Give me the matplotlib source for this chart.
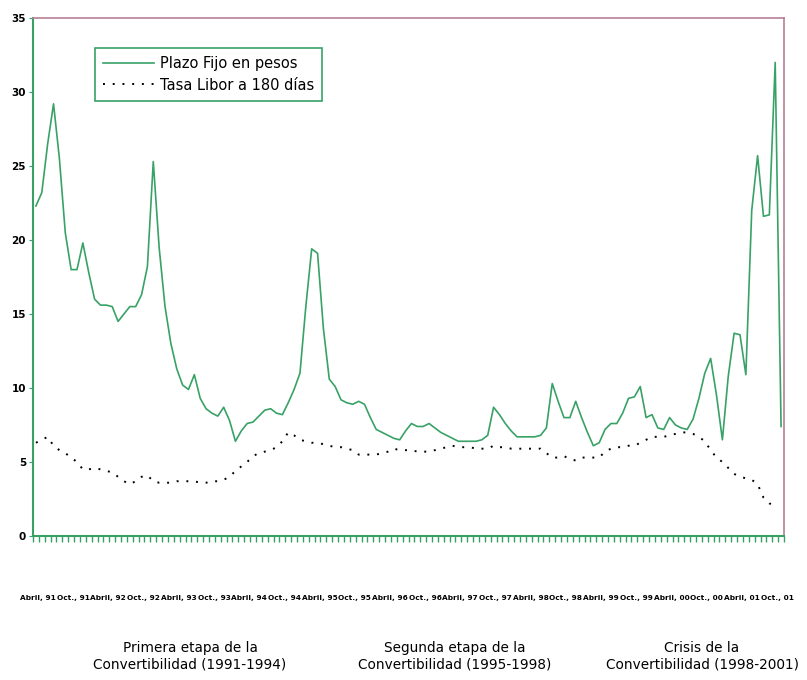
import numpy as np
import matplotlib.pyplot as plt

# monthly data, April 1991 - November 2001
plazo_fijo = [22.3, 23.2, 26.5, 29.2, 25.5, 20.5, 18.0, 18.0, 19.8, 17.8,
              16.0, 15.6, 15.6, 15.5, 14.5, 15.0, 15.5, 15.5, 16.3, 18.2,
              25.3, 19.5, 15.5, 13.0, 11.3, 10.2, 9.9, 10.9, 9.3, 8.6,
              8.3, 8.1, 8.7, 7.8, 6.4, 7.1, 7.6, 7.7, 8.1, 8.5,
              8.6, 8.3, 8.2, 9.0, 9.9, 11.0, 15.5, 19.4, 19.1, 14.0,
              10.6, 10.1, 9.2, 9.0, 8.9, 9.1, 8.9, 8.0, 7.2, 7.0,
              6.8, 6.6, 6.5, 7.1, 7.6, 7.4, 7.4, 7.6, 7.3, 7.0,
              6.8, 6.6, 6.4, 6.4, 6.4, 6.4, 6.5, 6.8, 8.7, 8.2,
              7.6, 7.1, 6.7, 6.7, 6.7, 6.7, 6.8, 7.3, 10.3, 9.1,
              8.0, 8.0, 9.1, 8.0, 7.0, 6.1, 6.3, 7.2, 7.6, 7.6,
              8.3, 9.3, 9.4, 10.1, 8.0, 8.2, 7.3, 7.2, 8.0, 7.5,
              7.3, 7.2, 7.9, 9.3, 11.0, 12.0, 9.5, 6.5, 10.8, 13.7,
              13.6, 10.9, 22.0, 25.7, 21.6, 21.7, 32.0, 7.4]

libor = [6.3, 6.5, 6.7, 6.1, 5.8, 5.6, 5.3, 5.0, 4.5, 4.5,
         4.6, 4.5, 4.4, 4.3, 4.0, 3.7, 3.5, 3.7, 4.0, 4.1,
         3.7, 3.6, 3.6, 3.6, 3.7, 3.7, 3.7, 3.7, 3.6, 3.6,
         3.7, 3.7, 3.8, 4.0, 4.4, 4.7, 5.0, 5.4, 5.6, 5.7,
         5.8, 6.0, 6.4, 7.0, 6.8, 6.5, 6.4, 6.3, 6.3, 6.2,
         6.1, 6.0, 6.0, 5.9, 5.8, 5.5, 5.5, 5.5, 5.5, 5.6,
         5.7, 5.9, 5.8, 5.8, 5.8, 5.7, 5.7, 5.7, 5.8, 5.9,
         6.0, 6.1, 6.0, 6.0, 6.0, 5.9, 5.9, 5.9, 6.1, 6.0,
         6.0, 5.9, 5.9, 5.9, 5.9, 5.9, 5.9, 5.6, 5.3, 5.3,
         5.4, 5.2, 5.1, 5.3, 5.3, 5.3, 5.3, 5.7, 5.9, 6.0,
         6.0, 6.1, 6.1, 6.3, 6.5, 6.7, 6.7, 6.7, 6.8, 6.9,
         7.0, 7.0, 6.9, 6.7, 6.4, 5.8, 5.3, 5.0, 4.6, 4.2,
         4.0, 3.9, 3.8, 3.5, 2.6, 2.2, 2.1, np.nan]

tick_labels = []
for yr in ['91', '92', '93', '94', '95', '96', '97', '98', '99', '00', '01']:
    tick_labels += ['Abril, ' + yr, 'Oct., ' + yr]

etapas = ['Primera etapa de la\nConvertibilidad (1991-1994)',
          'Segunda etapa de la\nConvertibilidad (1995-1998)',
          'Crisis de la\nConvertibilidad (1998-2001)']
etapa_x = [190, 455, 702]

green = '#38a266'
pink = '#b67f97'

fig = plt.figure(figsize=(8.07, 6.8), dpi=100)
ax = fig.add_axes([33 / 807, 1 - 536 / 680, 751 / 807, 518 / 680])

x = np.arange(len(plazo_fijo))
ax.plot(x, plazo_fijo, color=green, lw=1.2, label='Plazo Fijo en pesos')
ax.plot(np.arange(len(libor)), libor, color='black', lw=1.4,
        linestyle=(0, (1, 4)), label='Tasa Libor a 180 días')

ax.set_xlim(-0.5, len(plazo_fijo) - 0.5)
ax.set_ylim(0, 35)
ax.set_yticks(range(0, 36, 5))
ax.tick_params(axis='y', labelsize=7.5, length=3, color=green, pad=2)
for lab in ax.get_yticklabels():
    lab.set_fontweight('bold')

# monthly ticks on the category axis
ax.set_xticks(np.arange(-0.5, len(plazo_fijo), 1))
ax.set_xticklabels([])
ax.tick_params(axis='x', length=4, color=green, width=1)

for sp in ['left', 'bottom']:
    ax.spines[sp].set_color(green)
    ax.spines[sp].set_linewidth(1.5)
for sp in ['top', 'right']:
    ax.spines[sp].set_color(pink)
    ax.spines[sp].set_linewidth(1.2)

# half-year labels under the axis
for k, lab in enumerate(tick_labels):
    ax.annotate(lab, xy=(k * 6, 0), xycoords='data',
                xytext=(2, -62), textcoords='offset pixels',
                ha='center', va='center', fontsize=5.3, fontweight='bold')

for txt, px in zip(etapas, etapa_x):
    fig.text(px / 807, 1 - 656 / 680, txt, ha='center', va='center',
             fontsize=9.8, linespacing=1.25)

leg = ax.legend(loc='upper left', bbox_to_anchor=(95 / 807, 1 - 48 / 680),
                bbox_transform=fig.transFigure, borderaxespad=0,
                fancybox=False, framealpha=1, edgecolor=green,
                fontsize=10.5, handlelength=3.5, borderpad=0.55,
                labelspacing=0.45, handletextpad=0.4)
leg.get_frame().set_linewidth(1.2)

fig.savefig('out.png', dpi=100)
